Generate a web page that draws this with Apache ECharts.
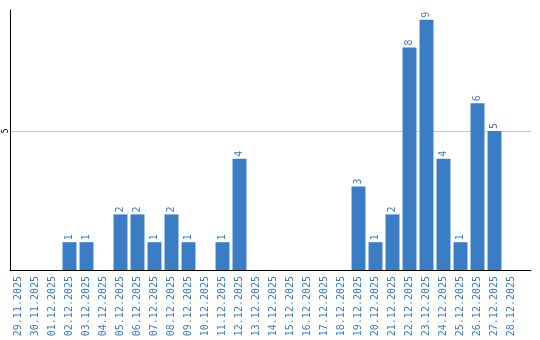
<!DOCTYPE html>
<html><head><meta charset="utf-8">
<script src="https://cdn.jsdelivr.net/npm/echarts@6/dist/echarts.min.js"></script>
<style>html,body{margin:0;padding:0;background:#fff}#c{width:540px;height:340px}</style>
</head><body><div id="c"></div>
<script>
const categories = ["29.11.2025","30.11.2025","01.12.2025","02.12.2025","03.12.2025","04.12.2025","05.12.2025","06.12.2025","07.12.2025","08.12.2025","09.12.2025","10.12.2025","11.12.2025","12.12.2025","13.12.2025","14.12.2025","15.12.2025","16.12.2025","17.12.2025","18.12.2025","19.12.2025","20.12.2025","21.12.2025","22.12.2025","23.12.2025","24.12.2025","25.12.2025","26.12.2025","27.12.2025","28.12.2025"];
const values = [0,0,0,1,1,0,2,2,1,2,1,0,1,4,0,0,0,0,0,0,3,1,2,8,9,4,1,6,5,0];
const yTicks = [5];
const yMax = 9.35;

const blue = '#3b7dc4';
const chart = echarts.init(document.getElementById('c'));
chart.setOption({
  animation: false,
  grid: [
    {left: 10, right: 9, top: 10, bottom: 70},
    {left: 10, width: 510, top: 10, bottom: 70}
  ],
  xAxis: [
    {gridIndex: 0, type: 'category', data: [''], axisLine: {lineStyle: {color: '#000', width: 1}}, axisTick: {show: false}, axisLabel: {show: false}},
    {gridIndex: 1, type: 'category', data: categories, axisLine: {show: false}, axisTick: {show: false},
     axisLabel: {rotate: 90, interval: 0, color: blue, fontFamily: 'DejaVu Sans Mono', fontSize: 10, margin: 6}}
  ],
  yAxis: [
    {gridIndex: 0, type: 'value', min: 0, max: yMax, interval: 5,
     axisLine: {show: true, lineStyle: {color: '#000', width: 1}}, axisTick: {show: false},
     splitLine: {show: true, showMaxLine: false, showMinLine: false, lineStyle: {color: '#c8c8c8', width: 1}},
     axisLabel: {rotate: 90, margin: 4, fontSize: 8, color: '#000', fontFamily: 'DejaVu Sans Mono',
       align: 'center', verticalAlign: 'middle', showMaxLabel: false,
       formatter: v => yTicks.includes(v) ? String(v) : ''}},
    {gridIndex: 1, type: 'value', min: 0, max: yMax, show: false}
  ],
  series: [{
    type: 'bar', xAxisIndex: 1, yAxisIndex: 1,
    data: values.map(v => v === 0 ? null : v),
    barCategoryGap: '18%',
    itemStyle: {color: blue},
    label: {show: true, position: 'top', rotate: 90, align: 'left', verticalAlign: 'middle', distance: 2,
      color: blue, fontSize: 10, fontFamily: 'DejaVu Sans Mono'}
  }]
});
</script></body></html>
